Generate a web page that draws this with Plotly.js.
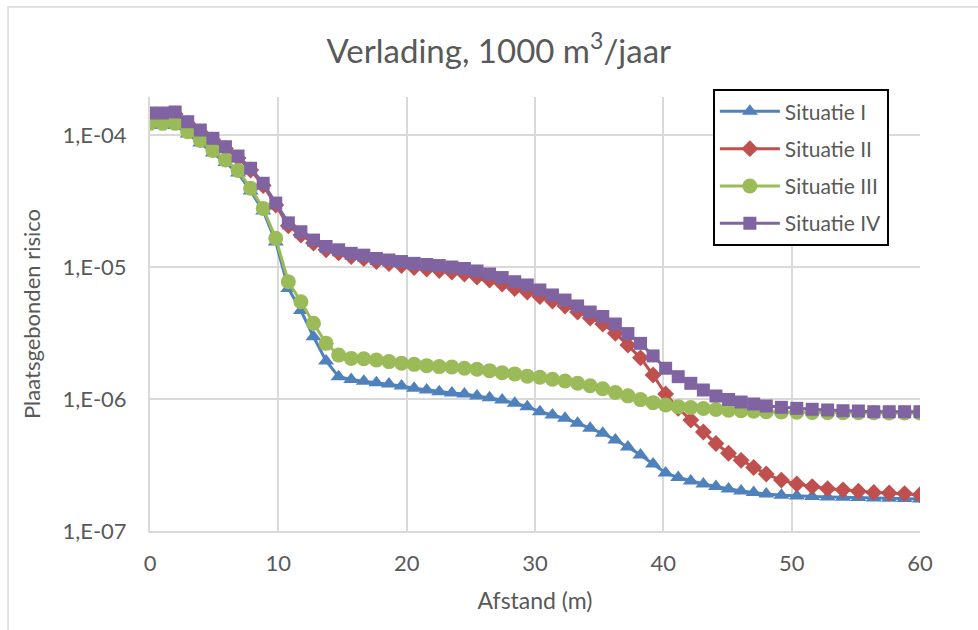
<!DOCTYPE html>
<html>
<head>
<meta charset="utf-8">
<script src="https://cdn.plot.ly/plotly-3.0.1.min.js"></script>
<style>
  html, body { margin: 0; padding: 0; background: #ffffff; }
  #chart { width: 978px; height: 630px; }
</style>
</head>
<body>
<div id="chart"></div>
<script>
// Distance (m)
const afstand = [0, 0.98, 1.96, 2.94, 3.92, 4.9, 5.88, 6.86, 7.84, 8.82,
  9.8, 10.78, 11.76, 12.74, 13.72, 14.7, 15.68, 16.66, 17.64, 18.62,
  19.6, 20.58, 21.56, 22.54, 23.52, 24.5, 25.48, 26.46, 27.44, 28.42,
  29.4, 30.38, 31.36, 32.34, 33.32, 34.3, 35.28, 36.26, 37.24, 38.22,
  39.2, 40.18, 41.16, 42.14, 43.12, 44.1, 45.08, 46.06, 47.04, 48.02,
  49.2, 50.4, 51.6, 52.8, 54.0, 55.2, 56.4, 57.6, 58.8, 60.0];

const situatieI = [1.18e-4, 1.18e-4, 1.19e-4, 1.018e-4, 8.7e-5, 7.31e-5, 6.19e-5, 5.15e-5, 3.77e-5, 2.66e-5,
  1.55e-5, 6.87e-6, 4.68e-6, 2.96e-6, 1.94e-6, 1.476e-6, 1.405e-6, 1.364e-6, 1.328e-6, 1.30e-6,
  1.255e-6, 1.205e-6, 1.17e-6, 1.135e-6, 1.11e-6, 1.09e-6, 1.054e-6, 1.023e-6, 9.83e-7, 9.28e-7,
  8.75e-7, 8.01e-7, 7.57e-7, 7.14e-7, 6.55e-7, 6.0e-7, 5.5e-7, 4.89e-7, 4.33e-7, 3.77e-7,
  3.22e-7, 2.75e-7, 2.54e-7, 2.39e-7, 2.27e-7, 2.17e-7, 2.08e-7, 2.01e-7, 1.96e-7, 1.905e-7,
  1.865e-7, 1.84e-7, 1.825e-7, 1.81e-7, 1.80e-7, 1.79e-7, 1.78e-7, 1.77e-7, 1.76e-7, 1.75e-7];

const situatieII = [1.418e-4, 1.418e-4, 1.443e-4, 1.222e-4, 1.054e-4, 9.17e-5, 7.9e-5, 6.69e-5, 5.43e-5, 4.14e-5,
  2.95e-5, 2.05e-5, 1.75e-5, 1.52e-5, 1.35e-5, 1.28e-5, 1.20e-5, 1.16e-5, 1.10e-5, 1.063e-5,
  1.026e-5, 9.91e-6, 9.66e-6, 9.41e-6, 9.17e-6, 8.85e-6, 8.39e-6, 7.96e-6, 7.43e-6, 6.87e-6,
  6.47e-6, 5.98e-6, 5.52e-6, 5.07e-6, 4.56e-6, 4.11e-6, 3.70e-6, 3.15e-6, 2.56e-6, 2.05e-6,
  1.52e-6, 1.09e-6, 8.5e-7, 6.93e-7, 5.62e-7, 4.6e-7, 3.88e-7, 3.43e-7, 3.03e-7, 2.70e-7,
  2.43e-7, 2.27e-7, 2.17e-7, 2.09e-7, 2.05e-7, 2.00e-7, 1.96e-7, 1.94e-7, 1.92e-7, 1.88e-7];

const situatieIII = [1.226e-4, 1.226e-4, 1.226e-4, 1.059e-4, 9.08e-5, 7.63e-5, 6.47e-5, 5.38e-5, 3.95e-5, 2.78e-5,
  1.65e-5, 7.74e-6, 5.46e-6, 3.75e-6, 2.64e-6, 2.15e-6, 2.03e-6, 2.02e-6, 1.975e-6, 1.92e-6,
  1.865e-6, 1.83e-6, 1.79e-6, 1.76e-6, 1.75e-6, 1.71e-6, 1.68e-6, 1.64e-6, 1.58e-6, 1.55e-6,
  1.49e-6, 1.46e-6, 1.41e-6, 1.37e-6, 1.315e-6, 1.26e-6, 1.195e-6, 1.12e-6, 1.057e-6, 9.9e-7,
  9.38e-7, 9.0e-7, 8.75e-7, 8.63e-7, 8.48e-7, 8.32e-7, 8.22e-7, 8.14e-7, 8.07e-7, 8.01e-7,
  7.97e-7, 7.94e-7, 7.91e-7, 7.89e-7, 7.88e-7, 7.86e-7, 7.86e-7, 7.85e-7, 7.85e-7, 7.85e-7];

const situatieIV = [1.468e-4, 1.468e-4, 1.494e-4, 1.261e-4, 1.091e-4, 9.44e-5, 8.15e-5, 6.93e-5, 5.6e-5, 4.31e-5,
  3.05e-5, 2.16e-5, 1.85e-5, 1.60e-5, 1.43e-5, 1.35e-5, 1.27e-5, 1.23e-5, 1.16e-5, 1.13e-5,
  1.10e-5, 1.066e-5, 1.045e-5, 1.026e-5, 1.0e-5, 9.74e-6, 9.33e-6, 8.85e-6, 8.32e-6, 7.74e-6,
  7.31e-6, 6.70e-6, 6.14e-6, 5.62e-6, 5.07e-6, 4.56e-6, 4.22e-6, 3.70e-6, 3.13e-6, 2.64e-6,
  2.12e-6, 1.71e-6, 1.476e-6, 1.315e-6, 1.17e-6, 1.054e-6, 9.91e-7, 9.49e-7, 9.17e-7, 8.85e-7,
  8.65e-7, 8.5e-7, 8.36e-7, 8.26e-7, 8.15e-7, 8.11e-7, 8.01e-7, 8.01e-7, 8.01e-7, 8.01e-7];

const seriesNames = ['Situatie I', 'Situatie II', 'Situatie III', 'Situatie IV'];
const yTickVals = [1e-7, 1e-6, 1e-5, 1e-4];
const yTickText = ['1,E-07', '1,E-06', '1,E-05', '1,E-04'];
const xTickVals = [0, 10, 20, 30, 40, 50, 60];

const FONT = 'Lato, "Open Sans", sans-serif';
const TXT = '#595959';
const GRID = '#d9d9d9';

const styles = [
  {color: '#4F81BD', symbol: 'triangle-up', size: 14},
  {color: '#C0504D', symbol: 'diamond', size: 13},
  {color: '#9BBB59', symbol: 'circle', size: 15},
  {color: '#8064A2', symbol: 'square', size: 13}
];
const ys = [situatieI, situatieII, situatieIII, situatieIV];

const traces = ys.map((y, i) => ({
  type: 'scatter',
  mode: 'lines+markers',
  name: seriesNames[i],
  x: afstand,
  y: y,
  line: {color: styles[i].color, width: 3},
  marker: {color: styles[i].color, symbol: styles[i].symbol, size: styles[i].size},
  legendgroup: 'g' + i
}));

const layout = {
  width: 978,
  height: 630,
  paper_bgcolor: '#ffffff',
  plot_bgcolor: '#ffffff',
  margin: {l: 150, r: 58, t: 97, b: 99},
  font: {family: FONT, color: TXT, size: 21},
  title: {
    text: 'Verlading, 1000 m<sup>3</sup>/jaar',
    font: {family: FONT, size: 33, color: TXT},
    x: 0.51, xanchor: 'center', xref: 'container',
    y: 0.918, yanchor: 'middle', yref: 'container'
  },
  xaxis: {
    range: [0, 60],
    tickvals: xTickVals,
    ticks: '',
    showgrid: true,
    gridcolor: GRID,
    gridwidth: 2,
    showline: true,
    linecolor: GRID,
    linewidth: 2,
    zeroline: false,
    tickfont: {family: FONT, size: 22, color: TXT},
    ticklabelstandoff: 12,
    title: {text: 'Afstand (m)', font: {family: FONT, size: 23, color: TXT}, standoff: 17}
  },
  yaxis: {
    type: 'log',
    range: [-7, -3.712],
    tickvals: yTickVals,
    ticktext: yTickText,
    ticks: '',
    showgrid: true,
    gridcolor: GRID,
    gridwidth: 2,
    showline: true,
    linecolor: GRID,
    linewidth: 2,
    zeroline: false,
    tickfont: {family: FONT, size: 22, color: TXT},
    ticklabelstandoff: 17,
    title: {text: 'Plaatsgebonden risico', font: {family: FONT, size: 22, color: TXT}, standoff: 16}
  },
  legend: {
    x: 0.731, xanchor: 'left',
    y: 1.018, yanchor: 'top',
    bgcolor: '#ffffff',
    bordercolor: '#000000',
    borderwidth: 2,
    font: {family: FONT, size: 21, color: TXT},
    traceorder: 'grouped',
    tracegroupgap: 7,
    itemwidth: 60
  },
  shapes: [{
    type: 'rect', xref: 'paper', yref: 'paper',
    x0: -0.1844, x1: 1.2, y0: -0.4, y1: 1.2074,
    line: {color: GRID, width: 1.5},
    fillcolor: 'rgba(0,0,0,0)',
    layer: 'below'
  }],
  showlegend: true
};

Plotly.newPlot('chart', traces, layout, {displayModeBar: false, staticPlot: true});
</script>
</body>
</html>
